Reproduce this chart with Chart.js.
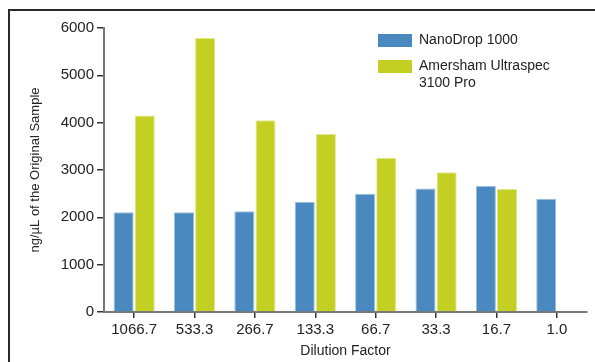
<!DOCTYPE html>
<html>
<head>
<meta charset="utf-8">
<script src="https://cdn.jsdelivr.net/npm/chart.js@4"></script>
<style>
  html, body { margin: 0; padding: 0; background: #fff; }
  #wrap { width: 595px; height: 362px; }
</style>
</head>
<body>
<div id="wrap"><canvas id="myChart" width="595" height="362"></canvas></div>
<script>
const dilutions = ['1066.7', '533.3', '266.7', '133.3', '66.7', '33.3', '16.7', '1.0'];
const nanodrop = [2110, 2110, 2130, 2330, 2500, 2610, 2660, 2390];
const amersham = [4150, 5790, 4050, 3760, 3260, 2950, 2600, null];
const seriesNames = ['NanoDrop 1000', ['Amersham Ultraspec', '3100 Pro']];
const blue = '#4a89bf';
const green = '#c3cf22';
const font = 'Liberation Sans, Arial, Helvetica, sans-serif';

// frame lines on the top and left edge
const framePlugin = {
  id: 'frame',
  beforeDraw(chart) {
    const c = chart.ctx;
    c.save();
    c.fillStyle = '#fff';
    c.fillRect(0, 0, chart.width, chart.height);
    c.strokeStyle = '#2a2a2a';
    c.lineWidth = 2;
    c.beginPath();
    c.moveTo(9, chart.height);
    c.lineTo(9, 10);
    c.lineTo(chart.width, 10);
    c.stroke();
    c.restore();
  }
};

// legend drawn inside the plot, upper right
const legendPlugin = {
  id: 'boxLegend',
  afterDraw(chart) {
    const c = chart.ctx;
    const colors = [blue, green];
    let y = 34;
    c.save();
    c.font = '14px ' + font;
    c.textBaseline = 'middle';
    seriesNames.forEach((name, i) => {
      c.fillStyle = colors[i];
      c.fillRect(378, y, 34, 13);
      c.fillStyle = '#222';
      const lines = Array.isArray(name) ? name : [name];
      lines.forEach((ln, j) => c.fillText(ln, 419, y + 6.5 + j * 17));
      y += 26;
    });
    c.restore();
  }
};

async function draw_chart() {
  const ctx = document.getElementById('myChart');

  new Chart(ctx, {
    type: 'bar',
    data: {
      labels: dilutions,
      datasets: [{
        label: 'NanoDrop 1000',
        data: nanodrop,
        backgroundColor: blue,
        borderColor: '#9cc0df',
        borderWidth: 1,
        categoryPercentage: 0.7,
        barPercentage: 0.95
      }, {
        label: 'Amersham Ultraspec 3100 Pro',
        data: amersham,
        backgroundColor: green,
        borderColor: '#dfe88a',
        borderWidth: 1,
        categoryPercentage: 0.7,
        barPercentage: 0.95
      }]
    },
    options: {
      responsive: false,
      animation: false,
      layout: { padding: { left: 0, top: 28, right: 8, bottom: 0 } },
      plugins: {
        legend: { display: false },
        tooltip: { enabled: false }
      },
      scales: {
        x: {
          grid: {
            display: true,
            offset: false,
            drawOnChartArea: false,
            drawTicks: true,
            tickLength: 6,
            color: '#333',
            lineWidth: 1.5
          },
          border: { display: true, color: '#777', width: 2 },
          ticks: {
            color: '#222',
            padding: 3,
            font: { family: font, size: 15 }
          },
          title: {
            display: true,
            text: 'Dilution Factor',
            color: '#222',
            font: { family: font, size: 14 },
            padding: { top: 0, bottom: 2 }
          },
          afterFit(scale) { scale.height = 50; }
        },
        y: {
          min: 0,
          max: 6000,
          grid: {
            display: true,
            drawOnChartArea: false,
            drawTicks: true,
            tickLength: 7,
            color: '#333',
            lineWidth: 1.5
          },
          border: { display: true, color: '#777', width: 2 },
          ticks: {
            stepSize: 1000,
            color: '#222',
            padding: 3,
            font: { family: font, size: 15 },
            callback: function(value) {
              return String(value);
            }
          },
          title: {
            display: true,
            text: 'ng/µL of the Original Sample',
            color: '#222',
            font: { family: font, size: 13 },
            padding: { top: 28, bottom: 0 }
          },
          afterFit(scale) { scale.width = 104; }
        }
      }
    },
    plugins: [framePlugin, legendPlugin]
  });
}

draw_chart();
</script>
</body>
</html>
